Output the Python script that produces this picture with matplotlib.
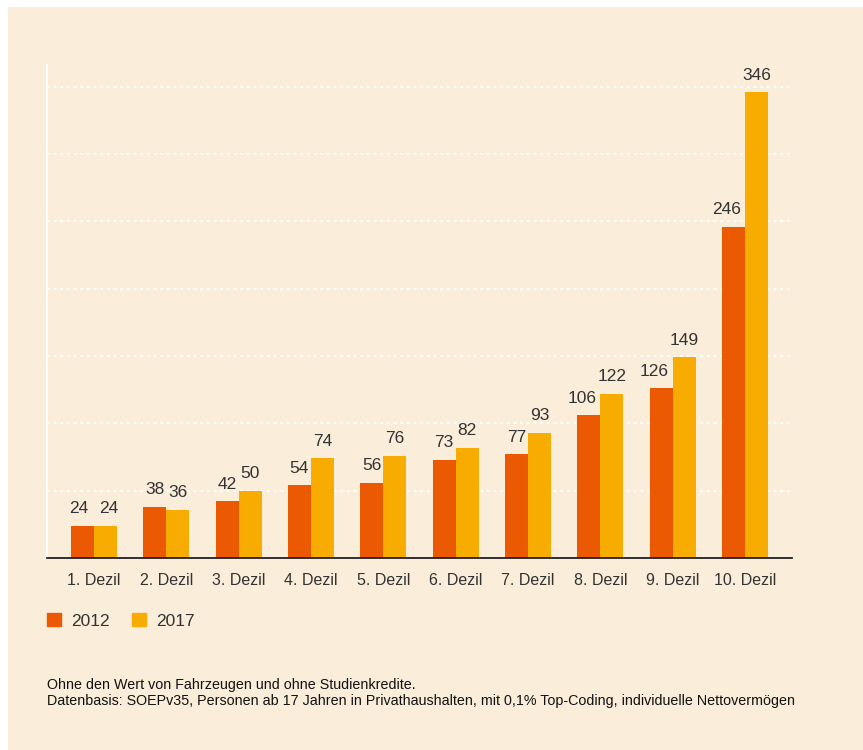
import matplotlib.pyplot as plt
import numpy as np
from matplotlib.patches import Rectangle, Patch

# Daten
dezile = ["1. Dezil", "2. Dezil", "3. Dezil", "4. Dezil", "5. Dezil",
          "6. Dezil", "7. Dezil", "8. Dezil", "9. Dezil", "10. Dezil"]
werte_2012 = [24, 38, 42, 54, 56, 73, 77, 106, 126, 246]
werte_2017 = [24, 36, 50, 74, 76, 82, 93, 122, 149, 346]
jahre = ["2012", "2017"]

BG = "#FAEDDA"
C2012 = "#EB5A02"
C2017 = "#F8AB00"
TXT = "#333333"

plt.rcParams["font.family"] = ["Liberation Sans", "DejaVu Sans"]

fig = plt.figure(figsize=(8.63, 7.5), dpi=100, facecolor="white")
# cremefarbener Hintergrund
fig.patches.append(Rectangle((8 / 863, 0), 1, 1 - 7 / 750, transform=fig.transFigure,
                             facecolor=BG, edgecolor="none", zorder=-10))

ax = fig.add_axes([47 / 863, 1 - 558 / 750, (792 - 47) / 863, (558 - 65) / 750])
ax.set_facecolor("none")
ax.set_zorder(2)

x = np.arange(len(dezile))
w = 0.32
b1 = ax.bar(x - w / 2, werte_2012, w, color=C2012, zorder=3)
b2 = ax.bar(x + w / 2, werte_2017, w, color=C2017, zorder=3)

# Beschriftungen, bei Überlappung leicht auseinanderschieben
for r1, r2 in zip(b1, b2):
    h1, h2 = r1.get_height(), r2.get_height()
    dx1 = dx2 = 0.0
    if h1 == h2:
        dx1, dx2 = -0.055, 0.045
    elif h1 >= 100:
        dx1 = -0.09
    ax.text(r1.get_x() + r1.get_width() / 2 + dx1, h1 + 7, f"{h1:.0f}",
            ha="center", va="bottom", fontsize=12.5, color=TXT)
    ax.text(r2.get_x() + r2.get_width() / 2 + dx2, h2 + 7, f"{h2:.0f}",
            ha="center", va="bottom", fontsize=12.5, color=TXT)

ax.set_xlim(-0.65, 9.65)
ax.set_ylim(0, 366)
ax.set_yticks(np.arange(50, 351, 50))
ax.set_yticklabels([])
ax.tick_params(axis="y", length=0)
ax.grid(axis="y", color="white", linestyle=(0, (1.2, 1.8)), linewidth=1.6, zorder=1)

ax.set_xticks(x)
ax.set_xticklabels(dezile, fontsize=11.5, color=TXT)
ax.tick_params(axis="x", length=0, pad=11)

for s in ("top", "right"):
    ax.spines[s].set_visible(False)
ax.spines["left"].set_color("white")
ax.spines["left"].set_linewidth(1.5)
ax.spines["bottom"].set_color("#222222")
ax.spines["bottom"].set_linewidth(1.3)
ax.spines["bottom"].set_zorder(4)

handles = [Patch(color=C2012), Patch(color=C2017)]
fig.legend(handles, jahre, loc="center left", bbox_to_anchor=(47 / 863, 1 - 621 / 750),
           ncol=2, frameon=False, fontsize=12.5, handlelength=0.8, handleheight=0.8,
           handletextpad=0.57, columnspacing=1.3, labelcolor=TXT,
           borderpad=0, borderaxespad=0)

fig.text(47 / 863, 1 - 685 / 750, "Ohne den Wert von Fahrzeugen und ohne Studienkredite.",
         fontsize=10.3, color="#111111", va="center")
fig.text(47 / 863, 1 - 701 / 750,
         "Datenbasis: SOEPv35, Personen ab 17 Jahren in Privathaushalten, mit 0,1% Top-Coding, individuelle Nettovermögen",
         fontsize=10.3, color="#111111", va="center")

fig.savefig("out.png", dpi=100, facecolor="white")
